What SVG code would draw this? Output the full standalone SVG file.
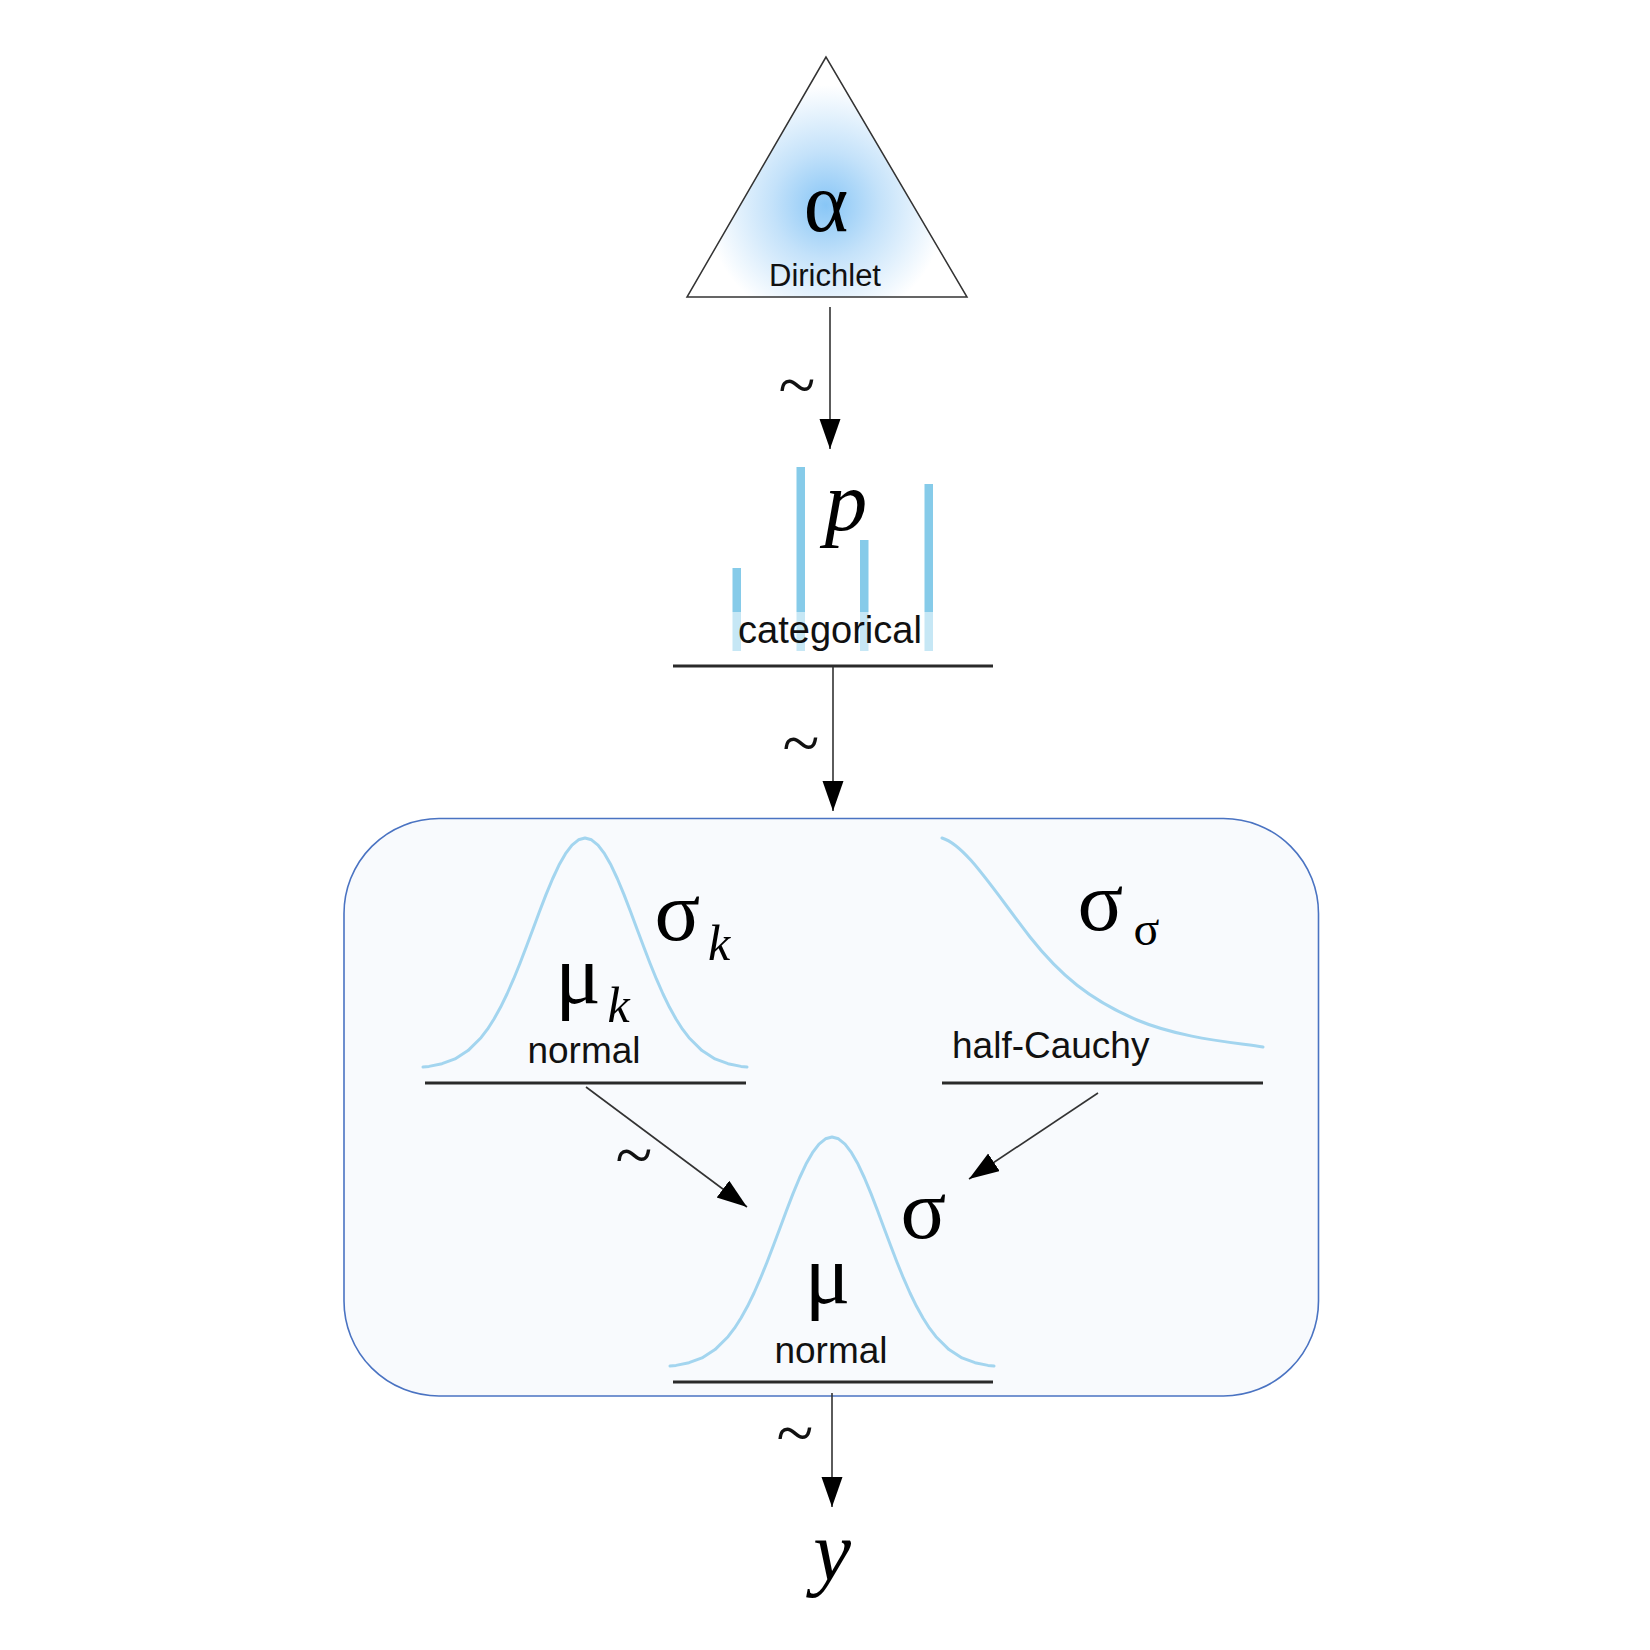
<svg xmlns="http://www.w3.org/2000/svg" width="1650" height="1650" viewBox="0 0 1650 1650">
<style>
.greek{font-family:"Liberation Serif","Times New Roman",serif;fill:#000}
.ital{font-family:"Liberation Serif","Times New Roman",serif;font-style:italic;fill:#000}
.lbl{font-family:"Liberation Sans",Arial,sans-serif;fill:#111}
.tilde{font-family:"Liberation Serif","Times New Roman",serif;font-size:68px;fill:#111;text-anchor:middle}
.under{stroke:#2a2a2a;stroke-width:3;fill:none}
.curve{stroke:#a3d5ef;stroke-width:3;fill:none;stroke-linejoin:round;stroke-linecap:round}
.conn{stroke:#333;stroke-width:1.6;fill:none;marker-end:url(#arr)}
.bar{fill:#86cbe9}
.barl{fill:#c6e7f5}
</style>
<defs>
<radialGradient id="glow" cx="826" cy="205" r="120" gradientUnits="userSpaceOnUse">
<stop offset="0" stop-color="#88c6f6"/>
<stop offset="0.45" stop-color="#c4e2fa"/>
<stop offset="1" stop-color="#ffffff"/>
</radialGradient>
<marker id="arr" markerUnits="userSpaceOnUse" markerWidth="31" markerHeight="22" refX="30" refY="10.5" orient="auto">
<path d="M0,0 L30,10.5 L0,21 z" fill="#000"/>
</marker>
<path id="bell" d="M-162,-1.9 L-156,-2.6 L-143,-5.3 L-130,-10.1 L-117,-18.4 L-104,-31.3 L-97.5,-39.8 L-91,-50 L-84.5,-61.7 L-78,-75 L-71.5,-89.8 L-65,-105.8 L-58.5,-122.7 L-52,-140.1 L-45.5,-157.5 L-39,-174.4 L-32.5,-190 L-26,-203.9 L-19.5,-215.3 L-13,-223.9 L-6.5,-229.2 L0,-231 L6.5,-229.2 L13,-223.9 L19.5,-215.3 L26,-203.9 L32.5,-190 L39,-174.4 L45.5,-157.5 L52,-140.1 L58.5,-122.7 L65,-105.8 L71.5,-89.8 L78,-75 L84.5,-61.7 L91,-50 L97.5,-39.8 L104,-31.3 L117,-18.4 L130,-10.1 L143,-5.3 L156,-2.6 L162,-1.9"/>
</defs>
<rect width="1650" height="1650" fill="#ffffff"/>

<g id="plate">
<rect x="344" y="818.5" width="974.5" height="577.5" rx="95" ry="95" fill="#f8fafd" stroke="#4a73c2" stroke-width="1.6"/>
</g>

<g id="alpha">
<polygon points="826,57 687,297 967,297" fill="url(#glow)" stroke="#333" stroke-width="1.5"/>
<text class="greek" x="826" y="231" font-size="85" text-anchor="middle">α</text>
<text class="lbl" x="825" y="286" font-size="31" text-anchor="middle">Dirichlet</text>
</g>

<g id="p">
<rect class="bar" x="732.5" y="568" width="8.5" height="44"/>
<rect class="barl" x="732.5" y="612" width="8.5" height="39"/>
<rect class="bar" x="796.5" y="467" width="8.5" height="145"/>
<rect class="barl" x="796.5" y="612" width="8.5" height="39"/>
<rect class="bar" x="860" y="540" width="8.5" height="72"/>
<rect class="barl" x="860" y="612" width="8.5" height="39"/>
<rect class="bar" x="924.5" y="484" width="8.5" height="128"/>
<rect class="barl" x="924.5" y="612" width="8.5" height="39"/>
<text class="ital" x="846" y="530" font-size="85" text-anchor="middle">p</text>
<text class="lbl" x="830" y="643" font-size="38" text-anchor="middle">categorical</text>
<line class="under" x1="673" y1="666" x2="993" y2="666"/>
</g>

<g id="muk">
<use href="#bell" class="curve" transform="translate(585,1069)"/>
<text class="greek" x="677.5" y="940" font-size="85" text-anchor="middle">σ</text>
<text class="ital" x="719" y="960" font-size="50" text-anchor="middle">k</text>
<text class="greek" x="578" y="1003" font-size="85" text-anchor="middle">μ</text>
<text class="ital" x="618.5" y="1022" font-size="50" text-anchor="middle">k</text>
<text class="lbl" x="584" y="1063" font-size="37" text-anchor="middle">normal</text>
<line class="under" x1="425" y1="1083" x2="746" y2="1083"/>
</g>

<g id="sigmasigma">
<path class="curve" d="M942,838 C965,845 990,885 1030,937 C1060,975 1090,1000 1137,1020 C1180,1038 1230,1042 1263,1047"/>
<text class="greek" x="1100.5" y="930" font-size="85" text-anchor="middle">σ</text>
<text class="greek" x="1146.5" y="945" font-size="48" text-anchor="middle">σ</text>
<text class="lbl" x="952" y="1058" font-size="37">half-Cauchy</text>
<line class="under" x1="942" y1="1083" x2="1263" y2="1083"/>
</g>

<g id="mu">
<use href="#bell" class="curve" transform="translate(832,1368)"/>
<text class="greek" x="923.5" y="1238" font-size="85" text-anchor="middle">σ</text>
<text class="greek" x="827.5" y="1303" font-size="85" text-anchor="middle">μ</text>
<text class="lbl" x="831" y="1363" font-size="37" text-anchor="middle">normal</text>
<line class="under" x1="673" y1="1382" x2="993" y2="1382"/>
</g>

<g id="y">
<text class="ital" x="832" y="1580" font-size="85" text-anchor="middle">y</text>
</g>

<g id="connectors">
<line class="conn" x1="830" y1="307" x2="830" y2="449"/>
<line class="conn" x1="833" y1="667" x2="833" y2="811"/>
<line class="conn" x1="586" y1="1087" x2="747" y2="1207"/>
<line class="conn" x1="1098" y1="1093" x2="969" y2="1179"/>
<line class="conn" x1="832" y1="1393" x2="832" y2="1507"/>
<text class="tilde" x="797" y="408">~</text>
<text class="tilde" x="801" y="766">~</text>
<text class="tilde" x="634" y="1178">~</text>
<text class="tilde" x="795" y="1456">~</text>
</g>
</svg>
